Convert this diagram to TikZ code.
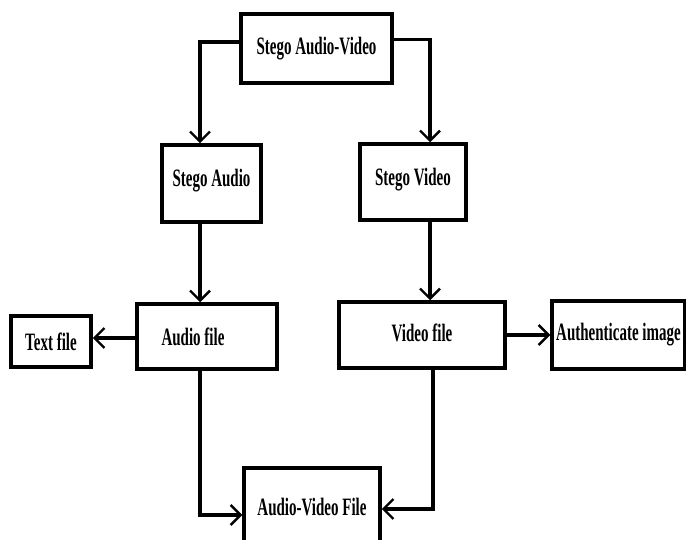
\documentclass[tikz,border=0pt]{standalone}
\usepackage{fontspec}
\setmainfont[FakeStretch=0.6]{Liberation Serif}
\usetikzlibrary{arrows.meta}
\begin{document}
\begin{tikzpicture}[x=1pt,y=-1pt,
  box/.style={draw, line width=3.5pt, fill=white, inner sep=0pt,
    font=\bfseries\fontsize{25}{29}\selectfont},
  arr/.style={line width=3.5pt, -{Straight Barb[length=10pt,width=20pt,line width=2.4pt]}}]
\useasboundingbox (0,0) rectangle (686,540);
\fill[white] (0,0) rectangle (686,540);
% boxes
\node[box, minimum width=151pt, minimum height=69pt] (sav) at (316.5,48.5) {Stego Audio-Video};
\node[box, minimum width=99pt, minimum height=77pt] (sa) at (211.5,183.5) {\raisebox{12pt}{Stego Audio}};
\node[box, minimum width=106pt, minimum height=76pt] (sv) at (413,182) {\raisebox{10pt}{Stego Video}};
\node[box, minimum width=140pt, minimum height=65pt] (af) at (207,336.5) {Audio file\hspace*{28pt}};
\node[box, minimum width=80pt, minimum height=51pt] (tf) at (51,341.5) {Text file};
\node[box, minimum width=166pt, minimum height=66pt] (vf) at (422,335) {\raisebox{4pt}{Video file}};
\node[box, minimum width=133pt, minimum height=68pt] (ai) at (618.5,335) {Authenticate image};
\node[box, minimum width=136pt, minimum height=78pt] (avf) at (312,507) {Audio-Video File};
% connectors
\draw[arr] ([yshift=6.5pt]sav.west) -| ([xshift=-11.5pt]sa.north);
\draw[arr] ([yshift=9pt]sav.east) -| ([xshift=17pt]sv.north);
\draw[arr] ([xshift=-11.5pt]sa.south) -- ([xshift=-11.5pt]sa.south |- af.north);
\draw[arr] ([xshift=17pt]sv.south) -- ([xshift=17pt]sv.south |- vf.north);
\draw[arr] ([yshift=-1.5pt]af.west) -- ([yshift=-1.5pt]af.west -| tf.east);
\draw[arr] (vf.east) -- (ai.west);
\draw[arr] ([xshift=-7pt]af.south) |- ([yshift=-8pt]avf.west);
\draw[arr] ([xshift=11pt]vf.south) |- ([yshift=-2pt]avf.east);
\end{tikzpicture}
\end{document}
